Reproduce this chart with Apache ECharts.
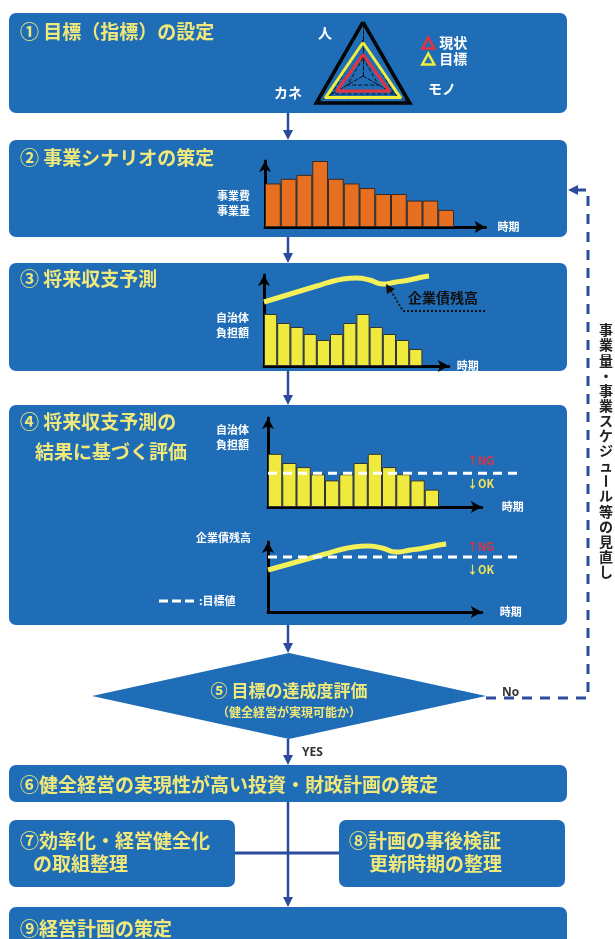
<!DOCTYPE html>
<html><head><meta charset="utf-8">
<script src="https://cdn.jsdelivr.net/npm/echarts@6/dist/echarts.min.js"></script>
<style>html,body{margin:0;padding:0;background:#fff}#c{width:615px;height:939px}</style>
</head><body><div id="c"></div>
<script>
// ---- data ----
const radarAxes = ['人', 'カネ', 'モノ'];
const radarCurrent = [40, 56, 56];   // 現状
const radarTarget = [62, 80, 80];    // 目標
const periods = ['1','2','3','4','5','6','7','8','9','10','11','12'];
const scenarioCost = [66, 73, 79, 100, 73, 66, 59, 50, 50, 40, 40, 26];   // 事業費・事業量
const burden = [52, 43, 39, 32, 26, 32, 43, 52, 39, 32, 26, 17];           // 自治体負担額
const debtAt = [0, 1, 2, 3, 4, 5, 6, 7, 8, 9, 10, 11, 12, 12.5];
const debt = [64, 68, 72, 76, 80, 84, 87, 88, 86, 82, 84, 86, 89, 90];    // 企業債残高
const burdenTarget = 33;
const debtTarget = 77;
const sideNote = '事業量・事業スケジュール等の見直し';

// ---- styles ----
const FONT = '"Noto Sans CJK JP", "Noto Sans", sans-serif';
const BOX = '#1e6db6';
const ARROW = '#2b4c9c';
const TITLE = '#f0e87a';
const BARY = '#f1ea3e';
const LINEY = '#f4f05a';
const RED = '#e5323e';
const YEL = '#f2ef3a';

function pad(n){ const a = periods.slice(); for(let i=0;i<n;i++) a.push(' '.repeat(i+1)); return a; }
function txt(x, y, s, size, color, extra){ return {type:'text', x:x, y:y, z:50, silent:true,
  style:Object.assign({text:s, fill:color, font:'bold '+size+'px '+FONT, align:'left', verticalAlign:'middle'}, extra||{})}; }
function rect(x,y,w,h){ return {type:'rect', z:0, silent:true, shape:{x:x,y:y,width:w,height:h,r:7}, style:{fill:BOX}}; }
function vArrow(x,y1,y2){ return [
  {type:'line', z:1, silent:true, shape:{x1:x,y1:y1,x2:x,y2:y2-8}, style:{stroke:ARROW, lineWidth:2.5}},
  {type:'polygon', z:1, silent:true, shape:{points:[[x-5,y2-10],[x+5,y2-10],[x,y2]]}, style:{fill:ARROW}}]; }

const axisLineStyle = {show:true, onZero:false, lineStyle:{color:'#000', width:3}, symbol:['none','arrow'], symbolSize:[9,11]};
function visX(gi, data, name, gap){ return {gridIndex:gi, type:'category', data:data, axisLine:axisLineStyle, axisTick:{show:false}, axisLabel:{show:false}, splitLine:{show:false},
  name:name, nameLocation:'end', nameGap:gap, nameTextStyle:{color:'#fff', fontWeight:'bold', fontSize:11, fontFamily:FONT, verticalAlign:'middle'}}; }
function visY(gi, min, max){ return {gridIndex:gi, type:'value', min:min, max:max, axisLine:axisLineStyle, axisTick:{show:false}, axisLabel:{show:false}, splitLine:{show:false}}; }
function hidX(gi, min, max){ return {gridIndex:gi, type:'value', min:min, max:max, show:false}; }
function hidY(gi, min, max){ return {gridIndex:gi, type:'value', min:min, max:max, show:false}; }

const graphics = [];
// boxes
graphics.push(rect(9,13,558,100), rect(9,140,558,97), rect(9,263,558,108), rect(9,405,558,220),
  rect(9,765,558,37), rect(9,820,226,67), rect(339,820,226,67), rect(9,907,558,45));
graphics.push({type:'polygon', z:0, silent:true, shape:{points:[[92,696],[289,653],[486,696],[289,739]]}, style:{fill:BOX}});
// arrows
[[113,140],[237,263],[371,405],[625,653],[739,765],[802,907]].forEach(p => graphics.push(...vArrow(288,p[0],p[1])));
graphics.push({type:'line', z:1, silent:true, shape:{x1:235,y1:853,x2:339,y2:853}, style:{stroke:ARROW, lineWidth:3}});
// return dashed loop
graphics.push({type:'polyline', z:1, silent:true, shape:{points:[[486,698],[588,698],[588,190],[578,190]]}, style:{stroke:ARROW, lineWidth:3, lineDash:[10,8], fill:null}});
graphics.push({type:'polygon', z:1, silent:true, shape:{points:[[568,190],[578,185],[578,195]]}, style:{fill:ARROW}});
// titles
graphics.push(txt(20,32,'① 目標（指標）の設定',19,TITLE));
graphics.push(txt(20,158,'② 事業シナリオの策定',19,TITLE));
graphics.push(txt(20,279,'③ 将来収支予測',19,TITLE));
graphics.push(txt(20,422,'④ 将来収支予測の',19,TITLE));
graphics.push(txt(35,452,'結果に基づく評価',19,TITLE));
graphics.push(txt(289,691,'⑤ 目標の達成度評価',17,TITLE,{align:'center'}));
graphics.push(txt(289,712,'（健全経営が実現可能か）',12,TITLE,{align:'center'}));
graphics.push(txt(502,693,'No',12,'#333',{font:'bold 12px "Open Sans", sans-serif'}));
graphics.push(txt(302,753,'YES',12,'#333',{font:'bold 12px "Open Sans", sans-serif'}));
graphics.push(txt(20,785,'⑥健全経営の実現性が高い投資・財政計画の策定',19,TITLE));
graphics.push(txt(20,841,'⑦効率化・経営健全化',19,TITLE));
graphics.push(txt(33,864,'の取組整理',19,TITLE));
graphics.push(txt(349,841,'⑧計画の事後検証',19,TITLE));
graphics.push(txt(369,864,'更新時期の整理',19,TITLE));
graphics.push(txt(20,929,'⑨経営計画の策定',19,TITLE));
// radar labels
graphics.push(txt(325,33,radarAxes[0],14,'#fff',{align:'center'}));
graphics.push(txt(288,93,radarAxes[1],14,'#fff',{align:'center'}));
graphics.push(txt(442,89,radarAxes[2],14,'#fff',{align:'center'}));
// chart labels
graphics.push(txt(250,196,'事業費',11,'#fff',{align:'right'}), txt(250,211,'事業量',11,'#fff',{align:'right'}));
graphics.push(txt(249,318,'自治体',11,'#fff',{align:'right'}), txt(249,333,'負担額',11,'#fff',{align:'right'}));
graphics.push(txt(408,298,'企業債残高',14,'#111'));
graphics.push({type:'polyline', z:40, silent:true, shape:{points:[[485,311],[403,311],[391,291]]}, style:{stroke:'#111', lineWidth:2, lineDash:[2,2], fill:null}});
graphics.push({type:'polygon', z:40, silent:true, shape:{points:[[386,284],[387,294],[395,289]]}, style:{fill:'#111'}});
graphics.push(txt(249,430,'自治体',11,'#fff',{align:'right'}), txt(249,445,'負担額',11,'#fff',{align:'right'}));
graphics.push(txt(251,538,'企業債残高',11,'#fff',{align:'right'}));
graphics.push(txt(467,461,'↑NG',11,RED), txt(467,484,'↓OK',11,'#f0e25a'));
graphics.push(txt(467,547,'↑NG',11,RED), txt(467,570,'↓OK',11,'#f0e25a'));
graphics.push({type:'line', z:40, silent:true, shape:{x1:159,y1:601,x2:194,y2:601}, style:{stroke:'#fff', lineWidth:3, lineDash:[9,4]}});
graphics.push(txt(199,601,':目標値',11,'#fff'));
// side note (vertical)
Array.from(sideNote).forEach((ch,i) => graphics.push({type:'text', x:606, y:330+i*15.1, z:50, silent:true,
  rotation: ch === 'ー' ? -Math.PI/2 : 0,
  style:{text:ch, fill:'#222', font:'bold 14px '+FONT, align:'center', verticalAlign:'middle'}}));

const option = {
  animation:false,
  backgroundColor:'#fff',
  legend:{left:416, top:31, orient:'vertical', itemGap:2, itemWidth:12, itemHeight:11, icon:'triangle', selectedMode:false,
    textStyle:{color:'#fff', fontWeight:'bold', fontSize:14, fontFamily:FONT},
    data:[
      {name:'現状', itemStyle:{color:'rgba(0,0,0,0)', borderColor:RED, borderWidth:2.5}},
      {name:'目標', itemStyle:{color:'rgba(0,0,0,0)', borderColor:YEL, borderWidth:2.5}}
    ]},
  radar:[
    {center:[363,76], radius:54, shape:'polygon', splitNumber:1, startAngle:90,
     indicator:radarAxes.map(n => ({name:n, max:100})), axisName:{show:false},
     axisLine:{show:false}, splitLine:{lineStyle:{color:'#000', width:3.5}}, splitArea:{show:false}},
    {center:[363,76], radius:54, shape:'polygon', splitNumber:3, startAngle:90,
     indicator:radarAxes.map(n => ({name:n, max:100})), axisName:{show:false},
     axisLine:{lineStyle:{color:'#111', type:'dashed', width:1}}, splitLine:{lineStyle:{color:'#111', type:'dashed', width:1}}, splitArea:{show:false}}
  ],
  grid:[
    {left:265, top:161, width:220.5, height:66},
    {left:264, top:275, width:184.8, height:91},
    {left:268, top:418, width:213.75, height:89},
    {left:268, top:418, width:252, height:89},
    {left:268, top:542, width:213.75, height:70},
    {left:268, top:542, width:252, height:70}
  ],
  xAxis:[
    visX(0, pad(2), '時期', 12),
    visX(1, pad(2), '時期', 8),
    hidX(1, 0, 14),
    visX(2, pad(3), '時期', 20),
    hidX(3, 0, 1),
    Object.assign(visX(4, null, '時期', 18), {type:'value', min:0, max:15}),
    hidX(5, 0, 1)
  ],
  yAxis:[
    visY(0, 0, 100),
    visY(1, 0, 91),
    visY(2, 0, 87),
    hidY(3, 0, 87),
    visY(4, 22, 92),
    hidY(5, 22, 92)
  ],
  series:[
    {type:'bar', xAxisIndex:0, yAxisIndex:0, data:scenarioCost, barCategoryGap:'0%',
     itemStyle:{color:'#e6701f', borderColor:'#3b2a20', borderWidth:1}},
    {type:'bar', xAxisIndex:1, yAxisIndex:1, data:burden, barCategoryGap:'0%',
     itemStyle:{color:BARY, borderColor:'#333', borderWidth:1}},
    {type:'line', xAxisIndex:2, yAxisIndex:1, data:debtAt.map((t,i) => [t, debt[i]]), smooth:true, symbol:'none', clip:false,
     lineStyle:{color:LINEY, width:5}},
    {type:'bar', xAxisIndex:3, yAxisIndex:2, data:burden, barCategoryGap:'0%',
     itemStyle:{color:BARY, borderColor:'#333', borderWidth:1}},
    {type:'line', xAxisIndex:4, yAxisIndex:3, data:[[0,burdenTarget],[1,burdenTarget]], symbol:'none', z:5,
     lineStyle:{color:'#fff', width:3, type:[9,6]}},
    {type:'line', xAxisIndex:5, yAxisIndex:4, data:debtAt.map((t,i) => [t, debt[i]]), smooth:true, symbol:'none', clip:false,
     lineStyle:{color:LINEY, width:5}},
    {type:'line', xAxisIndex:6, yAxisIndex:5, data:[[0,debtTarget],[1,debtTarget]], symbol:'none', z:5,
     lineStyle:{color:'#fff', width:3, type:[9,6]}},
    {type:'radar', radarIndex:0, symbol:'none', z:4, data:[
      {name:'目標', value:radarTarget, itemStyle:{color:YEL}, lineStyle:{color:YEL, width:3}},
      {name:'現状', value:radarCurrent, itemStyle:{color:RED}, lineStyle:{color:RED, width:3}}
    ]}
  ],
  graphic:{elements:graphics}
};
const chart = echarts.init(document.getElementById('c'), null, {renderer:'canvas'});
chart.setOption(option);
</script></body></html>
